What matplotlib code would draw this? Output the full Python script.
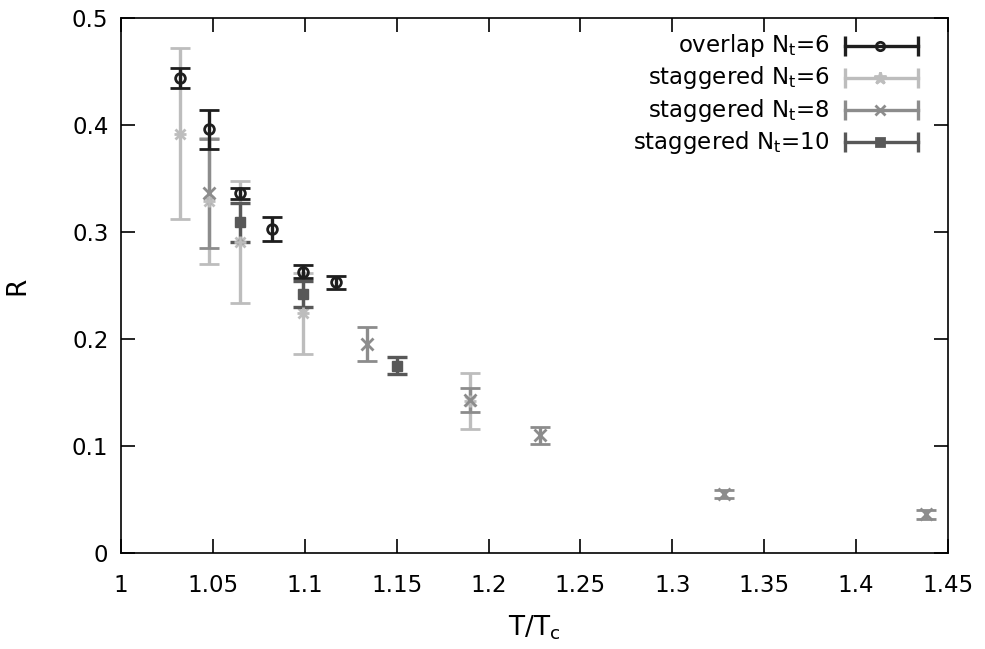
import matplotlib
matplotlib.use('Agg')
from matplotlib import pyplot as plt
from matplotlib.lines import Line2D

# overlap N_t=6
ov_x = [1.032, 1.048, 1.065, 1.082, 1.099, 1.117]
ov_y = [0.444, 0.396, 0.336, 0.303, 0.263, 0.253]
ov_e = [0.009, 0.018, 0.005, 0.011, 0.006, 0.006]

# staggered N_t=6
s6_x = [1.032, 1.048, 1.065, 1.099, 1.190]
s6_y = [0.392, 0.329, 0.291, 0.224, 0.142]
s6_e = [0.080, 0.059, 0.057, 0.038, 0.026]

# staggered N_t=8
s8_x = [1.048, 1.134, 1.190, 1.228, 1.328, 1.438]
s8_y = [0.336, 0.195, 0.143, 0.110, 0.055, 0.036]
s8_e = [0.051, 0.016, 0.011, 0.008, 0.004, 0.004]

# staggered N_t=10
s10_x = [1.065, 1.099, 1.150]
s10_y = [0.309, 0.242, 0.175]
s10_e = [0.018, 0.012, 0.008]

labels = [r'overlap N$_\mathrm{t}$=6', r'staggered N$_\mathrm{t}$=6',
          r'staggered N$_\mathrm{t}$=8', r'staggered N$_\mathrm{t}$=10']
colors = ['#1e1e1e', '#bdbdbd', '#8c8c8c', '#585858']

plt.rcParams['font.family'] = ['DejaVu Sans']
plt.rcParams['mathtext.fontset'] = 'custom'
plt.rcParams['mathtext.rm'] = 'DejaVu Sans'

fig = plt.figure(figsize=(9.85, 6.49), dpi=100)
ax = fig.add_axes([0.1228, 0.1479, 0.8396, 0.8244])

ekw = dict(linestyle='none', elinewidth=2.4, capsize=7, capthick=2.4)

# draw order: lightest first so darker bars sit on top
ax.errorbar(s6_x, s6_y, yerr=s6_e, color=colors[1], marker='+', ms=9, mew=2, **ekw)
ax.plot(s6_x, s6_y, 'x', color=colors[1], ms=7, mew=2)
ax.errorbar(s8_x, s8_y, yerr=s8_e, color=colors[2], marker='x', ms=8, mew=2, **ekw)
ax.errorbar(s10_x, s10_y, yerr=s10_e, color=colors[3], marker='s', ms=7, **ekw)
ax.errorbar(ov_x, ov_y, yerr=ov_e, color=colors[0], marker='o', ms=7,
            mfc='none', mew=2, **ekw)

ax.set_xlim(1, 1.45)
ax.set_ylim(0, 0.5)
ax.set_xticks([1 + 0.05 * i for i in range(10)])
ax.set_xticklabels(['1', '1.05', '1.1', '1.15', '1.2', '1.25', '1.3', '1.35', '1.4', '1.45'])
ax.set_yticks([0, 0.1, 0.2, 0.3, 0.4, 0.5])
ax.set_yticklabels(['0', '0.1', '0.2', '0.3', '0.4', '0.5'])
ax.tick_params(direction='in', length=10, width=1.2, labelsize=16.5,
               top=True, right=True, pad=9)
ax.tick_params(axis='x', pad=15)
for sp in ax.spines.values():
    sp.set_linewidth(1.2)

ax.set_xlabel(r'T/T$_\mathrm{c}$', fontsize=19, labelpad=12)
ax.set_ylabel('R', fontsize=19, labelpad=30)

# gnuplot style key: text right aligned, horizontal sample with caps
key_y = [0.948, 0.888, 0.828, 0.768]
markers = [('o', 6, 'none'), ('*', 9, None), ('x', 7, None), ('s', 6, None)]
for lab, c, y, (m, ms, mfc) in zip(labels, colors, key_y, markers):
    ax.text(0.857, y, lab, transform=ax.transAxes, ha='right', va='center',
            fontsize=16.5)
    ax.add_line(Line2D([0.875, 0.964], [y, y], transform=ax.transAxes,
                       color=c, lw=2.4))
    ax.add_line(Line2D([0.875, 0.964], [y, y], transform=ax.transAxes,
                       color=c, lw=0, marker='|', ms=14, mew=2.4))
    kw = dict(mfc=mfc) if mfc else {}
    ax.add_line(Line2D([0.918], [y], transform=ax.transAxes, color=c,
                       lw=0, marker=m, ms=ms, mew=2, **kw))

plt.savefig('out.png', dpi=100)
